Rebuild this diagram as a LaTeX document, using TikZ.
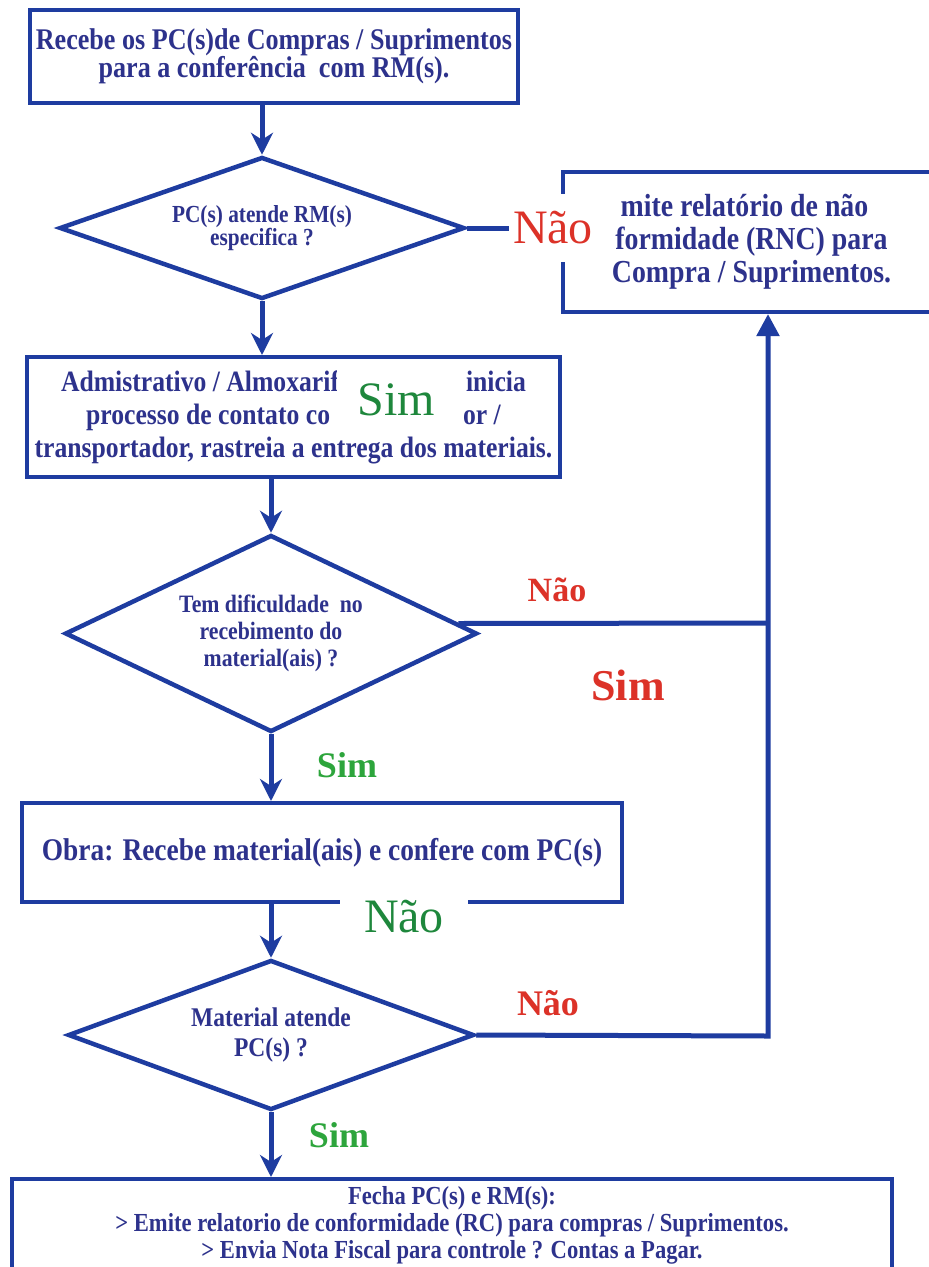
\documentclass[tikz,border=0pt]{standalone}
\usepackage{fontspec}
\setmainfont{Liberation Serif}
\newfontfamily\condfont[FakeStretch=0.87]{Liberation Serif}
\usetikzlibrary{shapes.geometric,arrows.meta,calc}
\definecolor{lineblue}{RGB}{30,60,160}
\definecolor{txtblue}{RGB}{45,50,140}
\definecolor{nred}{RGB}{220,50,40}
\definecolor{sgreen}{RGB}{45,165,60}
\definecolor{dgreen}{RGB}{30,135,60}
\begin{document}
\begin{tikzpicture}[x=1pt,y=-1pt,
  box/.style={draw=lineblue, line width=4pt, fill=white, inner sep=0pt, align=center, text=txtblue},
  dia/.style={diamond, draw=lineblue, line width=4.5pt, inner sep=0pt, align=center, text=txtblue},
  conn/.style={draw=lineblue, line width=5pt},
  arr/.style={conn, -{Stealth[length=22pt,width=22pt,inset=7pt]}},
  uparr/.style={conn, -{Triangle[length=22pt,width=22pt]}},
  lab/.style={inner sep=0pt},
]
\fill[white] (0,0) rectangle (929,1267);
\useasboundingbox (0,0) rectangle (929,1267);

% boxes
\node[box, minimum width=488, minimum height=93,
      font=\condfont\bfseries\fontsize{30}{28}\selectfont] (b1) at (274,56.5)
  {Recebe os PC(s)de Compras / Suprimentos\\para a conferência\ \ com RM(s).};

\node[dia, aspect=2.8, minimum width=405, minimum height=142,
      font=\condfont\bfseries\fontsize{24.5}{23}\selectfont] (d1) at (262,228)
  {PC(s) atende RM(s)\\especifica ?};

\node[box, minimum width=377, minimum height=140,
      font=\condfont\bfseries\fontsize{32}{33}\selectfont] (rnc) at (751.5,242)
  {\hspace*{-14pt}mite relatório de não\\formidade (RNC) para\\Compra / Suprimentos.};

\node[box, minimum width=533, minimum height=120,
      font=\condfont\bfseries\fontsize{29.5}{33}\selectfont] (b2) at (293.5,417)
  {Admistrativo / Almoxarif\hspace{127pt}inicia\\processo de contato co\hspace{133pt}or /\\transportador, rastreia a entrega dos materiais.};

\node[dia, aspect=2, minimum width=412, minimum height=197,
      font=\condfont\bfseries\fontsize{25}{27}\selectfont] (d2) at (271,633.5)
  {Tem dificuldade\ \ no\\recebimento do\\material(ais) ?};

\node[box, minimum width=600, minimum height=99,
      font=\condfont\bfseries\fontsize{31.5}{33}\selectfont] (b3) at (322,852.5)
  {Obra: Recebe material(ais) e confere com PC(s)};

\node[dia, aspect=2.8, minimum width=406, minimum height=150,
      font=\condfont\bfseries\fontsize{27}{30}\selectfont] (d3) at (271,1035)
  {Material atende\\PC(s) ?};

\node[box, minimum width=880, minimum height=120, anchor=north] (b4) at (452,1177) {};
\node[lab, align=center, text=txtblue,
      font=\condfont\bfseries\fontsize{26}{27}\selectfont] (b4t) at (452,1225)
  {Fecha PC(s) e RM(s):\\> Emite relatorio de conformidade (RC) para compras / Suprimentos.\\> Envia Nota Fiscal para controle ? Contas a Pagar.};

% junction coordinates
\coordinate (stub) at (509,228);
\coordinate (j2) at (768,623);
\coordinate (j3) at (768,1036);

% connectors
\draw[arr] (b1.south -| d1.north) -- (d1.north);
\draw[conn] (d1.east) -- (stub);
\draw[arr] (d1.south) -- (d1.south |- b2.north);
\draw[arr] (b2.south -| d2.north) -- (d2.north);
\draw[conn] ($(d2.east)+(-21,-10)$) -- (j2);
\draw[arr] (d2.south) -- (d2.south |- b3.north);
\draw[arr] (b3.south -| d3.north) -- (d3.north);
\draw[uparr] (d3.east) -- (j3) -- (j3 |- rnc.south);
\draw[arr] (d3.south) -- (d3.south |- b4.north);

% labels
\node[lab, fill=white, minimum width=88, minimum height=68, text=nred,
      font=\fontsize{48}{48}\selectfont] (n1) at (553,228) {Não};
\node[lab, fill=white, minimum width=118, minimum height=66, text=dgreen,
      font=\fontsize{48}{48}\selectfont] (s1) at (396,400) {Sim};
\node[lab, text=nred, font=\bfseries\fontsize{34}{34}\selectfont] (n2) at (557,590) {Não};
\node[lab, text=nred, font=\bfseries\fontsize{44}{44}\selectfont] (s2) at (628,685) {Sim};
\node[lab, text=sgreen, font=\bfseries\fontsize{36}{36}\selectfont] (s3) at (347,765) {Sim};
\node[lab, fill=white, minimum width=128, minimum height=44, text=dgreen,
      font=\fontsize{48}{48}\selectfont] (n3) at (404,917) {Não};
\node[lab, text=nred, font=\bfseries\fontsize{36}{36}\selectfont] (n4) at (548,1003) {Não};
\node[lab, text=sgreen, font=\bfseries\fontsize{36}{36}\selectfont] (s4) at (339,1135) {Sim};
\end{tikzpicture}
\end{document}
